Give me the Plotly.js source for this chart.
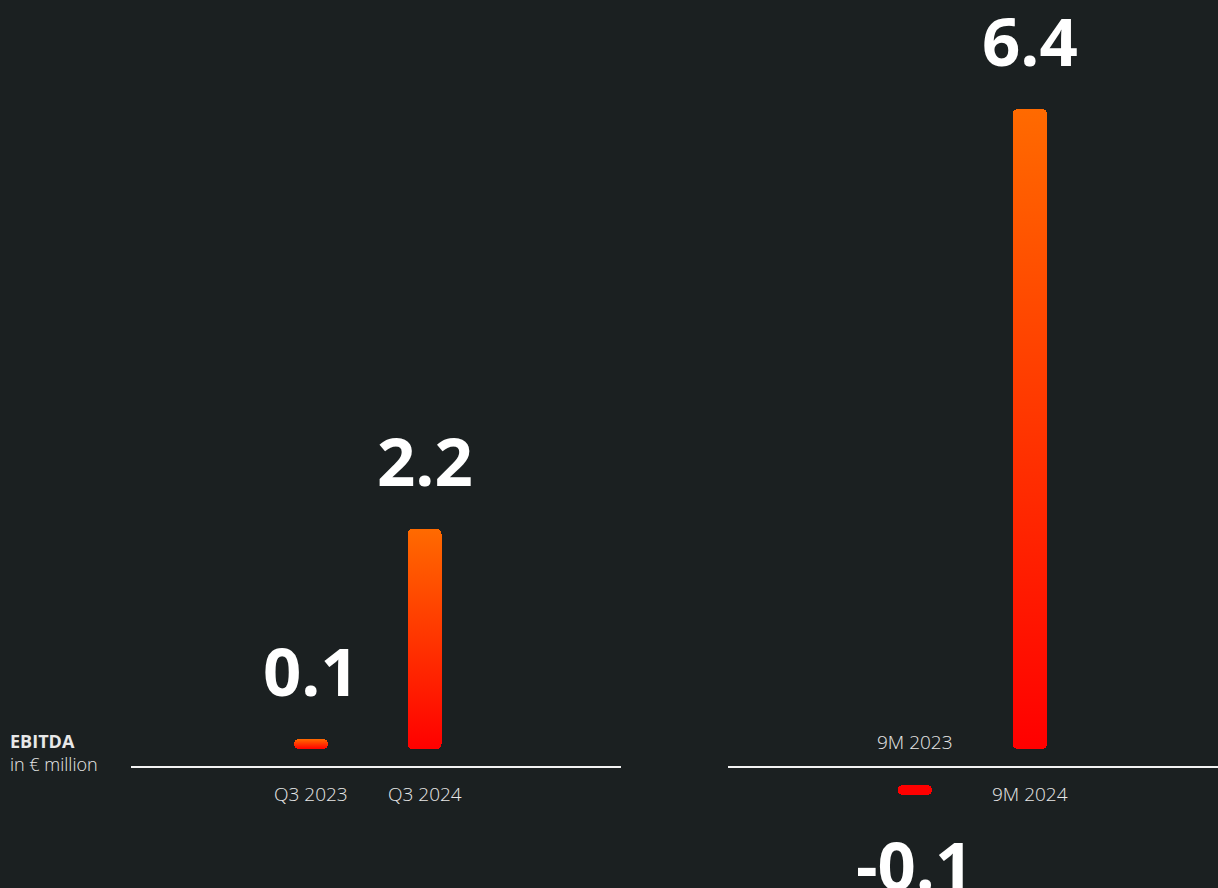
<!DOCTYPE html>
<html>
<head>
<meta charset="utf-8">
<script src="https://cdn.plot.ly/plotly-3.0.1.min.js"></script>
<style>
  html, body { margin: 0; padding: 0; background: #1b2021; }
  #chart { width: 1218px; height: 888px; }
</style>
</head>
<body>
<div id="chart"></div>
<script>
// ---- Data ----
const quarterCategories = ['Q3 2023', 'Q3 2024'];
const quarterValues = [0.1, 2.2];
const nineMonthCategories = ['9M 2023', '9M 2024'];
const nineMonthValues = [-0.1, 6.4];
const measureTitle = 'EBITDA';
const measureUnit = 'in € million';

// ---- Style ----
const BG = '#1b2021';
const BAR_GAP = 0.18;           // visual gap between the baseline and bars (data units)
const ORANGE = '#ff6a00';
const RED = '#ff0000';
const VALUE_FONT = { family: 'Open Sans, sans-serif', size: 67, color: '#ffffff', weight: 700 };
const CAT_FONT = { family: 'Open Sans, sans-serif', size: 19, color: '#e8e8e8', weight: 300 };

function barTrace(cats, vals, xa) {
  return {
    type: 'bar',
    x: cats,
    y: vals,
    base: vals.map(v => v >= 0 ? BAR_GAP : -BAR_GAP),
    width: 0.3,
    xaxis: xa,
    yaxis: 'y',
    marker: {
      color: vals.map(v => v >= 0 ? ORANGE : RED),
      line: { width: 0 },
      cornerradius: 5
    },
    hoverinfo: 'skip',
    showlegend: false
  };
}

const data = [
  barTrace(quarterCategories, quarterValues, 'x'),
  barTrace(nineMonthCategories, nineMonthValues, 'x2')
];

function labels(cats, vals, xref) {
  const out = [];
  cats.forEach((c, i) => {
    const v = vals[i];
    const pos = v >= 0;
    out.push({
      xref: xref, yref: 'y', x: c,
      y: pos ? v + BAR_GAP : v - BAR_GAP,
      yanchor: pos ? 'bottom' : 'top',
      yshift: pos ? 21 : -21,
      text: v.toFixed(1),
      showarrow: false,
      font: VALUE_FONT
    });
    out.push({
      xref: xref, yref: 'y', x: c, y: 0,
      yanchor: 'middle',
      yshift: pos ? -27 : 25,
      text: c,
      showarrow: false,
      font: CAT_FONT
    });
  });
  return out;
}

const annotations = [
  ...labels(quarterCategories, quarterValues, 'x'),
  ...labels(nineMonthCategories, nineMonthValues, 'x2'),
  {
    xref: 'paper', yref: 'paper', x: 0, xshift: 8, y: 1 - 752 / 888,
    xanchor: 'left', yanchor: 'middle', align: 'left',
    text: '<b>' + measureTitle + '</b><br>' + measureUnit,
    showarrow: false,
    font: { family: 'Open Sans, sans-serif', size: 18, color: '#e8e8e8', weight: 300 }
  }
];

const W = 1218;
const layout = {
  width: 1218, height: 888,
  margin: { l: 0, r: 0, t: 0, b: 0, pad: 0 },
  paper_bgcolor: BG, plot_bgcolor: BG,
  showlegend: false,
  bargap: 0,
  xaxis: {
    domain: [131 / W, 621 / W], type: 'category', range: [-1.586, 2.731],
    showticklabels: false, showgrid: false, zeroline: false, ticks: '', fixedrange: true
  },
  xaxis2: {
    domain: [728 / W, 1], type: 'category', range: [-1.626, 2.635], anchor: 'y',
    showticklabels: false, showgrid: false, zeroline: false, ticks: '', fixedrange: true
  },
  yaxis: {
    range: [-1.21, 7.67], showticklabels: false, showgrid: false,
    zeroline: true, zerolinecolor: '#f2f2f2', zerolinewidth: 2, ticks: '', fixedrange: true
  },
  annotations: annotations
};

function applyGradient(gd) {
  const svg = gd.querySelector('.main-svg');
  if (!svg) return;
  const NS = 'http://www.w3.org/2000/svg';
  let defs = svg.querySelector('defs');
  if (!defs) { defs = document.createElementNS(NS, 'defs'); svg.insertBefore(defs, svg.firstChild); }
  if (!svg.querySelector('#barGrad')) {
    const g = document.createElementNS(NS, 'linearGradient');
    g.setAttribute('id', 'barGrad');
    g.setAttribute('x1', '0'); g.setAttribute('y1', '0');
    g.setAttribute('x2', '0'); g.setAttribute('y2', '1');
    [[0, ORANGE], [1, RED]].forEach(([o, c]) => {
      const s = document.createElementNS(NS, 'stop');
      s.setAttribute('offset', o);
      s.setAttribute('stop-color', c);
      g.appendChild(s);
    });
    defs.appendChild(g);
  }
  const traces = gd.querySelectorAll('.barlayer .trace');
  traces.forEach((t, ti) => {
    const vals = gd.data[ti].y;
    t.querySelectorAll('.point').forEach((pt, pi) => {
      const p = pt.querySelector('path');
      if (p && vals[pi] >= 0) p.style.fill = 'url(#barGrad)';
    });
  });
}

const gd = document.getElementById('chart');
Plotly.newPlot(gd, data, layout, { displayModeBar: false, staticPlot: true }).then(() => {
  applyGradient(gd);
  gd.on('plotly_afterplot', () => applyGradient(gd));
});
</script>
</body>
</html>
